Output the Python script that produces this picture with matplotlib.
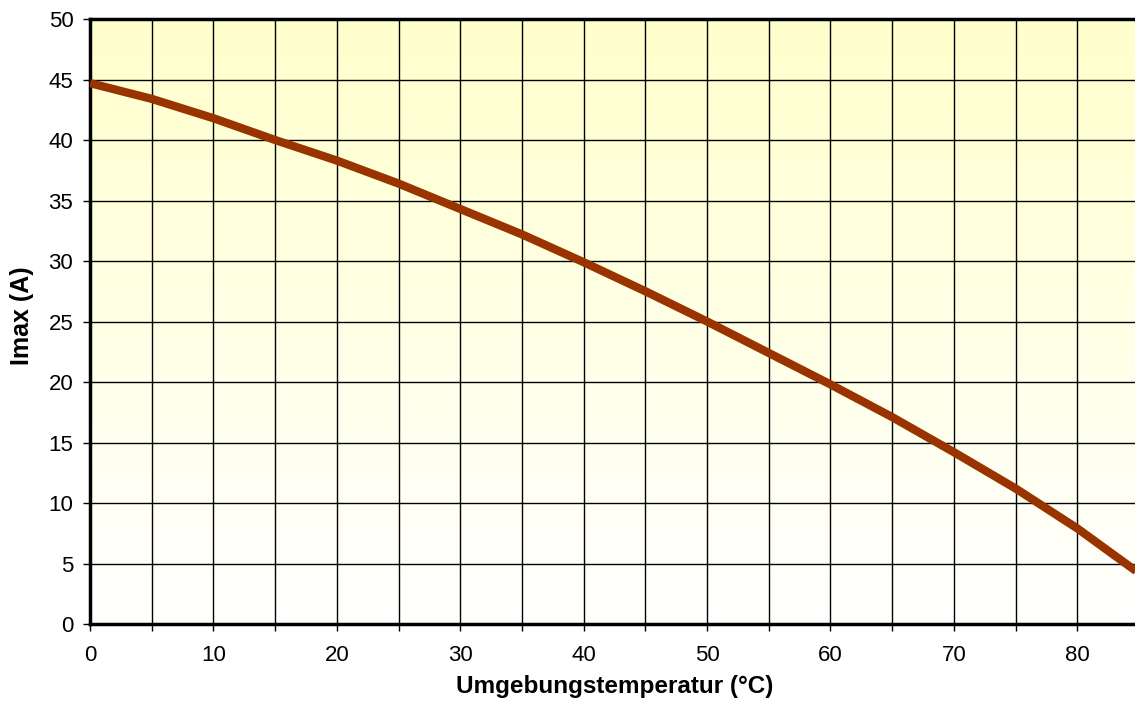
import matplotlib
matplotlib.use("Agg")
import matplotlib.pyplot as plt
import numpy as np
from matplotlib.colors import LinearSegmentedColormap

plt.rcParams['font.family'] = ['Liberation Sans', 'DejaVu Sans']

temps = [0, 5, 10, 15, 20, 25, 30, 35, 40, 45, 50, 55, 60, 65, 70, 75, 80, 85]
imax = [44.7, 43.4, 41.8, 40.0, 38.3, 36.4, 34.3, 32.2, 29.9, 27.5, 25.0, 22.4, 19.8, 17.1, 14.2, 11.2, 7.9, 4.2]
xticks = [0, 10, 20, 30, 40, 50, 60, 70, 80]
yticks = [0, 5, 10, 15, 20, 25, 30, 35, 40, 45, 50]

W, H = 1135, 711
fig = plt.figure(figsize=(W/100, H/100), dpi=100)
left, right, top, bottom = 90, 1139, 19, 624
ax = fig.add_axes([left/W, 1-bottom/H, (right-left)/W, (bottom-top)/H])

cmap = LinearSegmentedColormap.from_list('g', ['#ffffff', '#ffffcc'])
grad = np.linspace(0, 1, 256).reshape(-1, 1)
ax.imshow(grad, cmap=cmap, aspect='auto', extent=[0, 85, 0, 50], origin='lower', zorder=0)

ax.set_xlim(0, 85)
ax.set_ylim(0, 50)
ax.set_xticks(np.arange(0, 86, 5))
ax.set_xticklabels([str(v) if v in xticks else '' for v in range(0, 86, 5)])
ax.set_yticks(yticks)
ax.grid(True, color='black', linewidth=1.0, zorder=1)
ax.set_axisbelow(False)

ax.plot(temps, imax, color='#993300', linewidth=6, solid_capstyle='butt', solid_joinstyle='round', zorder=3)

for s in ['left', 'bottom', 'top']:
    ax.spines[s].set_linewidth(2.5)
ax.spines['right'].set_visible(False)
ax.tick_params(axis='both', direction='out', length=5, width=1, labelsize=16)
ax.tick_params(axis='x', pad=10)
ax.tick_params(axis='y', pad=7)

fig.text(615/W, 1-693/H, 'Umgebungstemperatur (°C)', fontsize=17.5, fontweight='bold',
         ha='center', va='baseline')
fig.text(29/W, 1-316/H, 'Imax (A)', fontsize=18, fontweight='bold', rotation=90,
         rotation_mode='anchor', ha='center', va='baseline')

fig.savefig('out.png', dpi=100)
